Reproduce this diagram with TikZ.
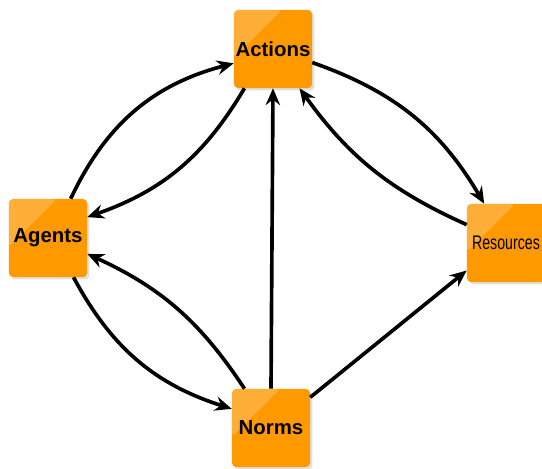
\documentclass[tikz,border=0pt]{standalone}
\usepackage{fontspec}
\setmainfont{Liberation Sans}
\usepackage{graphicx}
\usepackage{xcolor}
\usetikzlibrary{arrows.meta,shadows}

\definecolor{boxorange}{RGB}{255,153,0}

\begin{document}
\begin{tikzpicture}[
    x=0.025cm, y=-0.025cm,
    >={Stealth[length=4.2mm,width=3.6mm,inset=1.4mm]},
    font=\fontsize{14.5}{15}\selectfont\bfseries,
    box/.style={
        fill=boxorange,
        draw=none,
        rounded corners=1mm,
        minimum size=1.95cm,
        inner sep=0pt,
        align=center,
        drop shadow={shadow xshift=0.6mm, shadow yshift=-0.6mm, opacity=0.25},
        path picture={
            \fill[white, opacity=0.22]
                (path picture bounding box.north west) --
                ([xshift=1.2cm]path picture bounding box.north west) --
                ([yshift=-1.2cm]path picture bounding box.north west) -- cycle;
        }
    },
    arr/.style={->, line width=2.6pt, black}
]
\useasboundingbox (0,0) rectangle (542,469);

% the four boxes
\node[box] (actions) at (273,49) {Actions};
\node[box] (agents) at (48,238) {Agents};
\node[box] (resources) at (506,243)
    {\scalebox{0.72}[1]{\mdseries\fontsize{14}{15}\selectfont Resources}};
\node[box] (norms) at (271,428) {Norms};

% agents <-> actions
\draw[arr] (agents.60) to[bend left=25] (actions.200);
\draw[arr] (actions.234) to[bend left=20] (agents.28);

% norms -> everything
\draw[arr] (norms.north) -- (actions.south);
\draw[arr] (norms.124) to[bend right=16] (agents.338);
\draw[arr] (agents.303) to[bend right=22] (norms.154);
\draw[arr] (norms.38) -- (resources.215);

% actions <-> resources
\draw[arr] (actions.341) to[bend left=20] (resources.119);
\draw[arr] (resources.155) to[bend left=15] (actions.304);

\end{tikzpicture}
\end{document}
